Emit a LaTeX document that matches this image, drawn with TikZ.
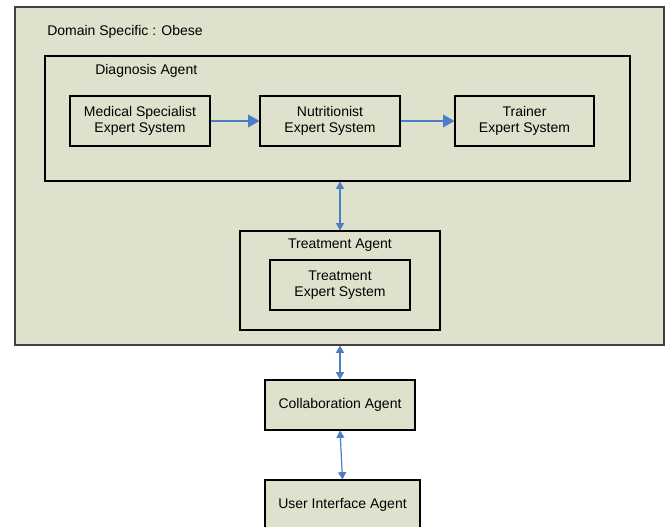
\documentclass[tikz,border=0pt]{standalone}
\usepackage{fontspec}
\setmainfont{Liberation Sans}
\usetikzlibrary{arrows.meta}
\definecolor{boxfill}{RGB}{222,226,204}
\definecolor{arrowblue}{RGB}{74,126,197}
\begin{document}
\begin{tikzpicture}[x=0.75pt,y=-0.75pt,
  txt/.style={font=\fontsize{10.5}{11.5}\selectfont, align=center, inner sep=0pt},
  box/.style={draw=black, fill=boxfill, line width=0.8pt, rectangle, inner sep=0pt, txt},
  sz/.style 2 args={minimum width=#1*0.75pt, minimum height=#2*0.75pt},
  flow/.style={draw=arrowblue, line width=0.9pt, -{Triangle[length=8.5pt,width=9.5pt]}},
  link/.style={draw=arrowblue, line width=0.9pt, {Triangle[length=5.5pt,width=6pt]}-{Triangle[length=5.5pt,width=6pt]}}]
\useasboundingbox (0,0) rectangle (666,527);
\fill[white] (0,0) rectangle (666,527);
% containers
\node[box, draw=black!75, sz={649}{338}] (outer) at (339.5,176) {};
\node[txt, anchor=west] (domlbl) at (47,32) {Domain Specific : Obese};
\node[box, sz={585}{125}] (diag) at (337.5,118.5) {};
\node[txt, anchor=west] (diaglbl) at (95,71) {Diagnosis Agent};
\node[box, sz={140}{50}] (med) at (140,121) {Medical Specialist\\Expert System};
\node[box, sz={140}{50}] (nut) at (330,121) {Nutritionist\\Expert System};
\node[box, sz={139}{50}] (tra) at (524.5,121) {Trainer\\Expert System};
\node[box, sz={200}{99}] (treat) at (340,280.5) {};
\node[txt] (treatlbl) at (340,245) {Treatment Agent};
\node[box, sz={140}{50}] (treates) at (340,285) {Treatment\\Expert System};
\node[box, sz={150}{50}] (collab) at (340,405) {Collaboration Agent};
\node[box, sz={155}{50}] (ui) at (342.5,505) {User Interface Agent};
% connectors
\draw[flow] (med.east) -- (nut.west);
\draw[flow] (nut.east) -- (tra.west);
\draw[link] (treat.north) -- (treat.north |- diag.south);
\draw[link] (collab.north |- outer.south) -- (collab.north);
\draw[link] (collab.south) -- (ui.north);
\end{tikzpicture}
\end{document}
